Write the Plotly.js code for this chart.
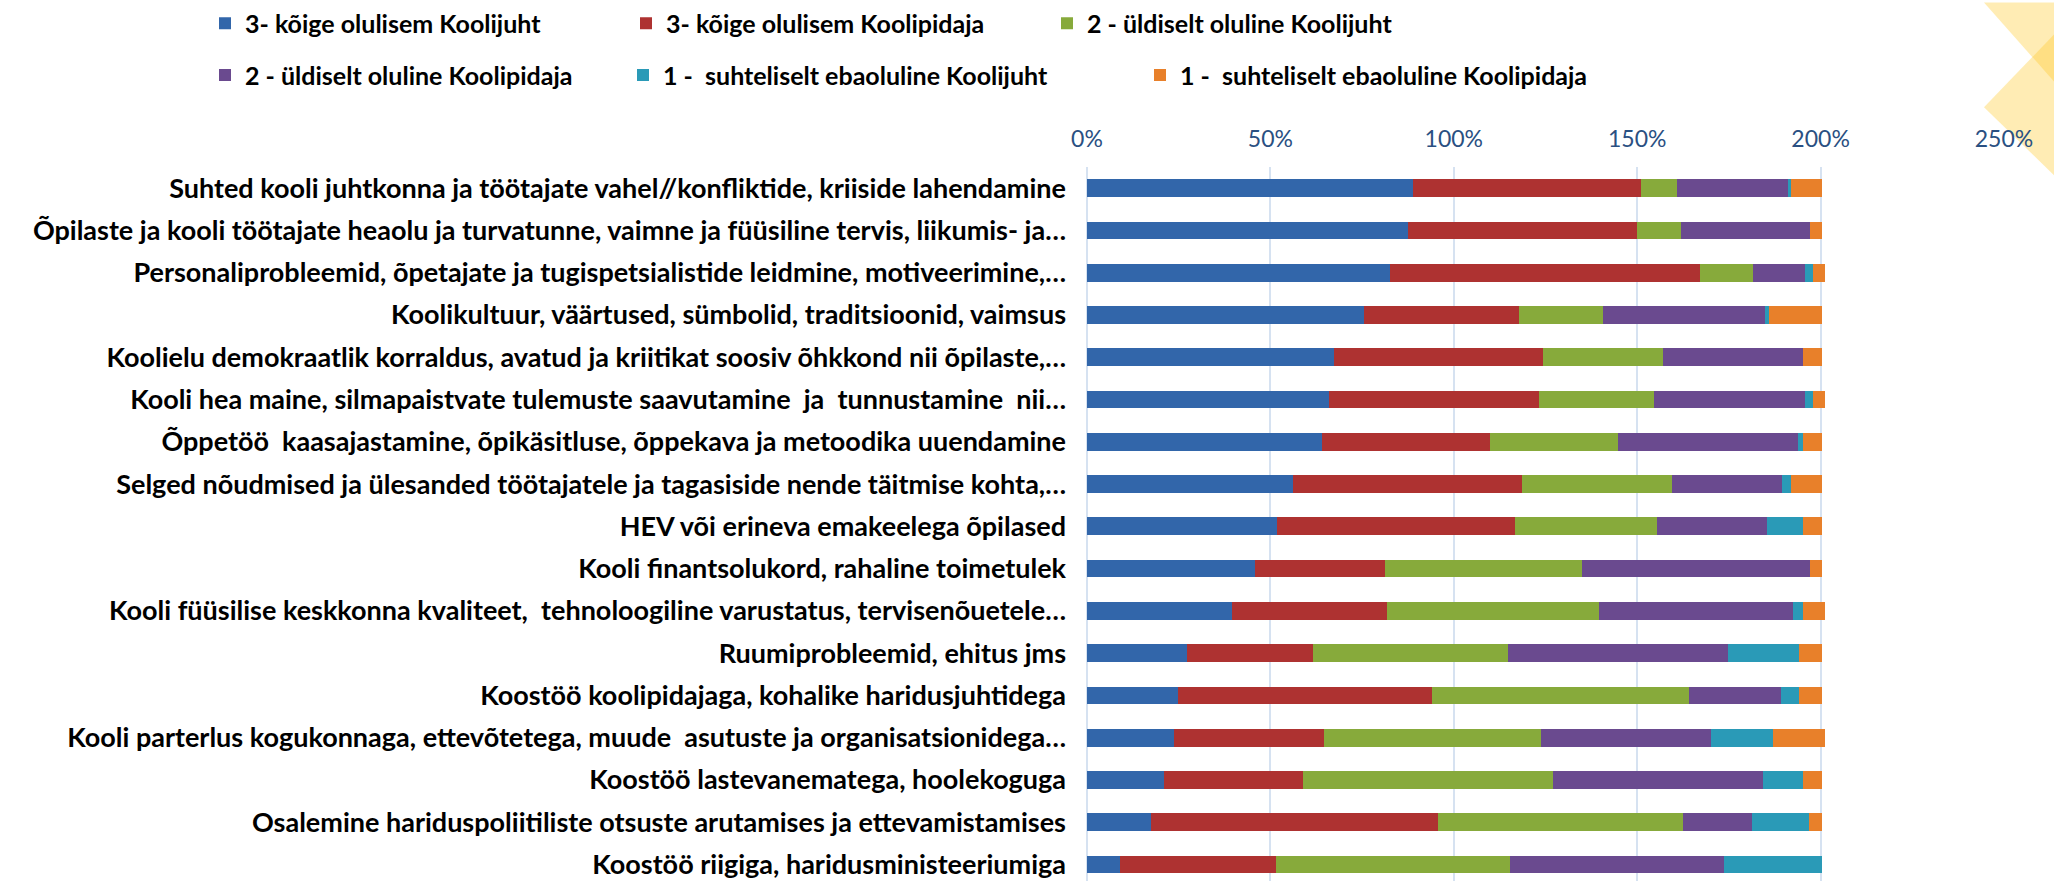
<!DOCTYPE html>
<html>
<head>
<meta charset="utf-8">
<script src="https://cdn.plot.ly/plotly-3.0.1.min.js"></script>
<style>
  html, body { margin: 0; padding: 0; background: #ffffff; overflow: hidden; }
  #chart { width: 2054px; height: 881px; }
</style>
</head>
<body>
<div id="chart"></div>
<script>
// ---- data ----
const categories = [
  "Suhted kooli juhtkonna ja töötajate vahel//konfliktide, kriiside lahendamine",
  "Õpilaste ja kooli töötajate heaolu ja turvatunne, vaimne ja füüsiline tervis, liikumis- ja…",
  "Personaliprobleemid, õpetajate ja tugispetsialistide leidmine, motiveerimine,…",
  "Koolikultuur, väärtused, sümbolid, traditsioonid, vaimsus",
  "Koolielu demokraatlik korraldus, avatud ja kriitikat soosiv õhkkond nii õpilaste,…",
  "Kooli hea maine, silmapaistvate tulemuste saavutamine  ja  tunnustamine  nii…",
  "Õppetöö  kaasajastamine, õpikäsitluse, õppekava ja metoodika uuendamine",
  "Selged nõudmised ja ülesanded töötajatele ja tagasiside nende täitmise kohta,…",
  "HEV või erineva emakeelega õpilased",
  "Kooli finantsolukord, rahaline toimetulek",
  "Kooli füüsilise keskkonna kvaliteet,  tehnoloogiline varustatus, tervisenõuetele…",
  "Ruumiprobleemid, ehitus jms",
  "Koostöö koolipidajaga, kohalike haridusjuhtidega",
  "Kooli parterlus kogukonnaga, ettevõtetega, muude  asutuste ja organisatsionidega…",
  "Koostöö lastevanematega, hoolekoguga",
  "Osalemine hariduspoliitiliste otsuste arutamises ja ettevamistamises",
  "Koostöö riigiga, haridusministeeriumiga"
];

const seriesNames = [
  "3- kõige olulisem Koolijuht",
  "3- kõige olulisem Koolipidaja",
  "2 - üldiselt oluline Koolijuht",
  "2 - üldiselt oluline Koolipidaja",
  "1 -  suhteliselt ebaoluline Koolijuht",
  "1 -  suhteliselt ebaoluline Koolipidaja"
];

const koolijuht3   = [89.0, 87.6, 82.6, 75.6, 67.3, 65.9, 64.2, 56.1, 51.7, 45.8, 39.4, 27.2, 24.9, 23.8, 21.0, 17.4, 9.1];
const koolipidaja3 = [62.0, 62.4, 84.5, 42.1, 57.0, 57.2, 45.8, 62.4, 64.9, 35.4, 42.3, 34.3, 69.1, 40.9, 38.0, 78.4, 42.3];
const koolijuht2   = [9.9, 12.0, 14.5, 23.0, 32.7, 31.5, 34.7, 40.9, 38.9, 53.8, 57.8, 53.3, 70.1, 59.2, 68.0, 66.7, 63.9];
const koolipidaja2 = [30.1, 35.0, 14.2, 44.2, 38.3, 41.2, 49.2, 30.1, 29.9, 62.0, 52.9, 60.0, 25.2, 46.2, 57.2, 18.8, 58.4];
const koolijuht1   = [1.0, 0, 2.1, 1.1, 0, 2.1, 1.4, 2.4, 9.9, 0, 2.8, 19.4, 4.9, 16.9, 11.0, 15.6, 26.7];
const koolipidaja1 = [8.5, 3.5, 3.3, 14.5, 5.2, 3.3, 5.2, 8.5, 5.2, 3.5, 6.0, 6.3, 6.3, 14.2, 5.2, 3.5, 0];

const tickValues = [0, 50, 100, 150, 200, 250];
const tickLabels = ["0%", "50%", "100%", "150%", "200%", "250%"];

// ---- styling ----
const colors = ["#3266AA", "#AE3231", "#87AA3B", "#6A4A8F", "#2A9AB7", "#E8802A"];
const seriesValues = [koolijuht3, koolipidaja3, koolijuht2, koolipidaja2, koolijuht1, koolipidaja1];
const legendOf = ["legend", "legend", "legend", "legend2", "legend4", "legend3"];

const W = 2054, H = 881;
const plotL = 1087, plotR = 2004, plotT = 165, plotB = 881;
const px2x = p => (p - plotL) / (plotR - plotL);
const px2y = p => (plotB - p) / (plotB - plotT);

const traces = seriesValues.map((vals, i) => ({
  type: "bar",
  orientation: "h",
  name: seriesNames[i],
  x: vals,
  y: categories,
  marker: { color: colors[i], line: { width: 0 } },
  legend: legendOf[i],
  hoverinfo: "x+name"
}));

const poly = pts => "M" + pts.map(p => px2x(p[0]) + "," + px2y(p[1])).join(" L") + " Z";

const legendFont = { family: "Lato, 'Open Sans', sans-serif", size: 25, color: "#000000", weight: 700 };
const legendBase = {
  orientation: "h", xanchor: "left", yanchor: "middle",
  font: legendFont, traceorder: "normal", bgcolor: "rgba(0,0,0,0)"
};

const layout = {
  width: W,
  height: H,
  margin: { l: plotL, r: W - plotR, t: plotT, b: H - plotB, pad: 0 },
  paper_bgcolor: "#ffffff",
  plot_bgcolor: "rgba(0,0,0,0)",
  barmode: "stack",
  bargap: 0.58,
  showlegend: true,
  font: { family: "Lato, 'Open Sans', sans-serif" },
  xaxis: {
    range: [0, 250],
    side: "top",
    tickmode: "array",
    tickvals: tickValues,
    ticktext: tickLabels,
    ticks: "",
    ticklabelstandoff: 14,
    tickfont: { family: "Lato, 'Open Sans', sans-serif", size: 23, color: "#2A5082" },
    showgrid: true,
    gridcolor: "#D6E2F1",
    gridwidth: 2,
    zeroline: true,
    zerolinecolor: "#D6E2F1",
    zerolinewidth: 2,
    showline: false,
    fixedrange: true
  },
  yaxis: {
    type: "category",
    range: [16.39, -0.5],
    ticks: "",
    ticklabelstandoff: 20,
    tickfont: { family: "Lato, 'Open Sans', sans-serif", size: 27, color: "#000000", weight: 700 },
    showgrid: false,
    zeroline: false,
    showline: false,
    fixedrange: true
  },
  legend: Object.assign({}, legendBase, {
    x: px2x(205), y: px2y(21), entrywidth: 376, entrywidthmode: "pixels"
  }),
  legend2: Object.assign({}, legendBase, {
    x: px2x(205), y: px2y(73)
  }),
  legend4: Object.assign({}, legendBase, {
    x: px2x(623), y: px2y(73)
  }),
  legend3: Object.assign({}, legendBase, {
    x: px2x(1140), y: px2y(73)
  }),
  shapes: [
    { type: "path", xref: "paper", yref: "paper", layer: "below",
      path: poly([[1984, 0], [2060, 0], [2060, 86]]),
      fillcolor: "rgba(255,200,40,0.35)", line: { width: 0 } },
    { type: "path", xref: "paper", yref: "paper", layer: "below",
      path: poly([[1984, 105], [2060, 26], [2060, 179]]),
      fillcolor: "rgba(255,200,40,0.35)", line: { width: 0 } }
  ]
};

Plotly.newPlot("chart", traces, layout, { staticPlot: true, displayModeBar: false });
</script>
</body>
</html>
